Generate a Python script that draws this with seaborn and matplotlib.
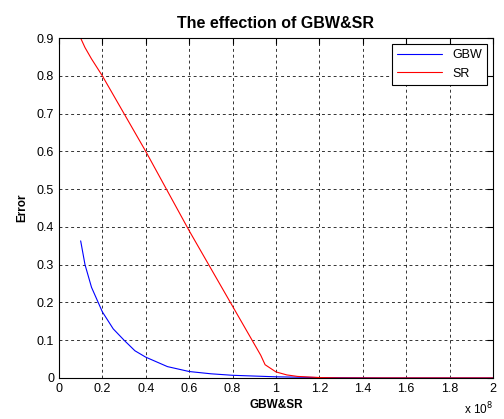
import numpy as np
import pandas as pd
import matplotlib
matplotlib.use("Agg")
import matplotlib.pyplot as plt
import seaborn as sns
from matplotlib.ticker import MultipleLocator, FormatStrFormatter

# values (x in units of 1e8)
x_gbw = [0.1, 0.12, 0.15, 0.2, 0.25, 0.3, 0.35, 0.4, 0.5, 0.6, 0.7, 0.8, 0.9, 1.0, 1.1, 1.2, 1.5, 2.0]
err_gbw = [0.363, 0.30, 0.24, 0.175, 0.13, 0.10, 0.072, 0.055, 0.03, 0.017, 0.011, 0.007, 0.005,
           0.003, 0.002, 0.001, 0.0, 0.0]
x_sr = [0.1, 0.12, 0.15, 0.2, 0.3, 0.4, 0.5, 0.6, 0.7, 0.8, 0.9, 0.93, 0.95, 1.0, 1.05, 1.1, 1.2, 1.3, 2.0]
err_sr = [0.9, 0.875, 0.845, 0.80, 0.70, 0.60, 0.495, 0.39, 0.29, 0.19, 0.09, 0.06, 0.035, 0.016,
          0.008, 0.004, 0.001, 0.0, 0.0]

df = pd.concat([
    pd.DataFrame({"x": x_gbw, "err": err_gbw, "series": "GBW"}),
    pd.DataFrame({"x": x_sr, "err": err_sr, "series": "SR"}),
])

sns.set_style("white")
plt.rcParams['font.family'] = ['Liberation Sans', 'DejaVu Sans']
plt.rcParams['text.color'] = 'black'
plt.rcParams['axes.labelcolor'] = 'black'
plt.rcParams['xtick.color'] = 'black'
plt.rcParams['ytick.color'] = 'black'

fig = plt.figure(figsize=(5.04, 4.19), dpi=100)
ax = fig.add_axes([0.117, 0.098, 0.861, 0.811])
sns.lineplot(data=df, x="x", y="err", hue="series", palette={"GBW": "#0000ff", "SR": "#ff0000"},
             linewidth=0.8, ax=ax, estimator=None, sort=False)

ax.set_xlim(0, 2)
ax.set_ylim(0, 0.9)
ax.xaxis.set_major_locator(MultipleLocator(0.2))
ax.yaxis.set_major_locator(MultipleLocator(0.1))
ax.xaxis.set_major_formatter(FormatStrFormatter('%g'))
ax.yaxis.set_major_formatter(FormatStrFormatter('%g'))
ax.tick_params(direction='in', length=4, labelsize=9, top=True, right=True, color='black')
ax.grid(True, color='black', linestyle=(0, (3, 3)), linewidth=0.7, alpha=0.8)
for s in ax.spines.values():
    s.set_color('black')
    s.set_linewidth(0.8)

ax.set_title("The effection of GBW&SR", fontsize=11.5, fontweight='bold', pad=7, color='black')
ax.set_xlabel("GBW&SR", fontsize=8.5, fontweight='bold', labelpad=3)
ax.set_ylabel("Error", fontsize=8.5, fontweight='bold', labelpad=6)
ax.text(1.0, -0.068, r"x 10$^8$", transform=ax.transAxes, ha='right', va='top', fontsize=8.5)

leg = ax.legend(loc='upper right', fontsize=9, fancybox=False, edgecolor='black',
                framealpha=1, handlelength=3.6, borderaxespad=0.5)
leg.get_frame().set_linewidth(0.8)

fig.savefig("out.png", dpi=100)
